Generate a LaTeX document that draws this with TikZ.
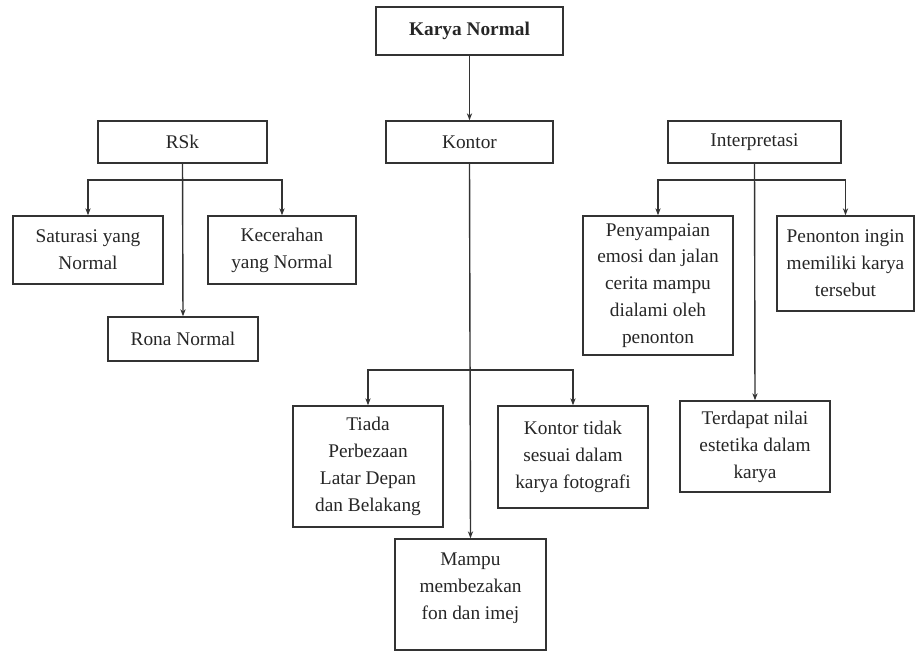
\documentclass[tikz,border=0pt]{standalone}
\usepackage{fontspec}
\setmainfont{Liberation Serif}
\usetikzlibrary{arrows.meta}
\newcommand{\boxfont}{\fontsize{11}{15.3}\selectfont}

\begin{document}
\begin{tikzpicture}[x = 0.2mm, y = -0.2mm,
  box/.style = {draw = black!80, line width = 0.8pt, align = center, font = \boxfont, text = black!85, inner sep = 2pt},
  arr/.style = {draw = black!80, line width = 0.8pt, -{Stealth[length = 4pt, width = 3pt]}}]
\useasboundingbox (0,0) rectangle (916,651);
% top
\node[box, minimum width = 37.4mm, minimum height = 9.6mm] (karya) at (469.5,31) {\textbf{Karya Normal}};
\node[box, minimum width = 33.8mm, minimum height = 8.4mm] (rsk) at (182.5,142) {RSk};
\node[box, minimum width = 33.4mm, minimum height = 8.4mm] (kontor) at (469.5,142) {Kontor};
\node[box, minimum width = 34.6mm, minimum height = 8.4mm] (interp) at (754.5,142) {Interpretasi};
\draw[arr] (karya.south) -- (kontor.north);

% RSk
\node[box, minimum width = 30mm, minimum height = 13.6mm] (saturasi) at (88,250) {Saturasi yang\\Normal};
\node[box, minimum width = 29.6mm, minimum height = 13.6mm] (kecerahan) at (282,250) {Kecerahan\\yang Normal};
\node[box, minimum width = 30mm, minimum height = 8.8mm] (rona) at (183,339) {Rona Normal};
\coordinate (rskbar) at (183,180);
\draw[arr] (rsk.south) -- (rona.north);
\draw[arr] (rskbar) -| (saturasi.north);
\draw[arr] (rskbar) -| (kecerahan.north);

% Kontor
\node[box, minimum width = 30mm, minimum height = 24.2mm] (tiada) at (368,466.5) {Tiada\\Perbezaan\\Latar Depan\\dan Belakang};
\node[box, minimum width = 30mm, minimum height = 20.4mm] (tidak) at (573,457) {Kontor tidak\\sesuai dalam\\karya fotografi};
\node[box, minimum width = 30.2mm, minimum height = 22.2mm] (mampu) at (470.5,594.5) {Mampu\\membezakan\\fon dan imej\\[-10pt]\strut};
\coordinate (kontorbar) at (470.5,370);
\draw[arr] (kontor.south) -- (mampu.north);
\draw[arr] (kontorbar) -| (tiada.north);
\draw[arr] (kontorbar) -| (tidak.north);

% Interpretasi
\node[box, minimum width = 30mm, minimum height = 27.8mm] (emosi) at (658,285.5) {Penyampaian\\emosi dan jalan\\cerita mampu\\dialami oleh\\penonton};
\node[box, minimum width = 27.4mm, minimum height = 19mm] (penonton) at (845.5,263.5) {Penonton ingin\\memiliki karya\\tersebut};
\node[box, minimum width = 30mm, minimum height = 18.2mm] (estetika) at (755,446.5) {Terdapat nilai\\estetika dalam\\karya};
\coordinate (interpbar) at (755,180);
\draw[arr] (interp.south) -- (estetika.north);
\draw[arr] (interpbar) -| (emosi.north);
\draw[arr] (interpbar) -| (penonton.north);
\end{tikzpicture}
\end{document}
